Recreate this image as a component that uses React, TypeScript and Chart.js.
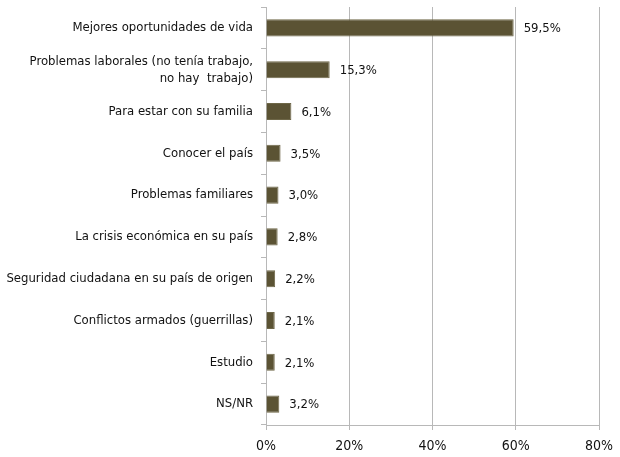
import React, { useEffect, useRef } from "react";
import { Chart, registerables } from "chart.js";

Chart.register(...registerables);

const categories: (string | string[])[] = [
  "Mejores oportunidades de vida",
  ["Problemas laborales (no tenía trabajo,", "no hay  trabajo)"],
  "Para estar con su familia",
  "Conocer el país",
  "Problemas familiares",
  "La crisis económica en su país",
  "Seguridad ciudadana en su país de origen",
  "Conflictos armados (guerrillas)",
  "Estudio",
  "NS/NR",
];
const values = [59.5, 15.3, 6.1, 3.5, 3.0, 2.8, 2.2, 2.1, 2.1, 3.2];
const xTicks = [0, 20, 40, 60, 80];

const FONT = "'Liberation Sans Narrow', 'DejaVu Sans Condensed', 'Roboto Condensed', sans-serif";

const valueLabels = {
  id: "valueLabels",
  afterDatasetsDraw(chart: any) {
    const ctx = chart.ctx;
    const meta = chart.getDatasetMeta(0);
    ctx.save();
    ctx.font = `13px ${FONT}`;
    ctx.fillStyle = "#111";
    ctx.textAlign = "left";
    ctx.textBaseline = "middle";
    meta.data.forEach((bar: any, i: number) => {
      const txt = values[i].toFixed(1).replace(".", ",") + "%";
      ctx.fillText(txt, bar.x + 10, bar.y + 1);
    });
    ctx.restore();
  },
};

export default function App() {
  const ref = useRef<HTMLCanvasElement>(null);
  useEffect(() => {
    if (!ref.current) return;
    const chart = new Chart(ref.current, {
      type: "bar",
      data: {
        labels: categories,
        datasets: [
          {
            data: values,
            backgroundColor: "#5b5334",
            borderColor: "#6e6748",
            borderWidth: 1,
            barPercentage: 0.41,
            categoryPercentage: 1,
          },
        ],
      },
      plugins: [valueLabels],
      options: {
        indexAxis: "y",
        animation: false,
        responsive: false,
        maintainAspectRatio: false,
        layout: { padding: { top: 7, right: 21, bottom: 0, left: 0 } },
        plugins: {
          legend: { display: false },
          tooltip: { enabled: false },
        },
        scales: {
          x: {
            min: 0,
            max: 80,
            afterBuildTicks: (scale: any) => {
              scale.ticks = xTicks.map((v) => ({ value: v }));
            },
            afterFit: (scale: any) => {
              scale.height = 32;
              scale.paddingLeft = 0;
              scale.paddingRight = 0;
            },
            grid: {
              color: "#b8b8b8",
              lineWidth: 1,
              tickLength: 5,
              drawTicks: true,
            },
            border: { display: true, color: "#b8b8b8" },
            ticks: {
              color: "#111",
              font: { family: FONT, size: 14 },
              padding: 8,
              callback: (v: any) => v + "%",
            },
          },
          y: {
            afterFit: (scale: any) => {
              scale.width = 266;
              scale.paddingTop = 0;
              scale.paddingBottom = 0;
            },
            grid: {
              drawOnChartArea: false,
              color: "#b8b8b8",
              tickLength: 5,
              offset: true,
            },
            border: { display: true, color: "#b8b8b8" },
            ticks: {
              color: "#111",
              font: { family: FONT, size: 13, lineHeight: 1.3 },
              padding: 8,
            },
          },
        },
      },
    });
    return () => chart.destroy();
  }, []);
  return (
    <div style={{ position: "fixed", left: 0, top: 0, width: 620, height: 457, background: "#fff" }}>
      <canvas ref={ref} width={620} height={457} style={{ width: 620, height: 457 }} />
    </div>
  );
}
